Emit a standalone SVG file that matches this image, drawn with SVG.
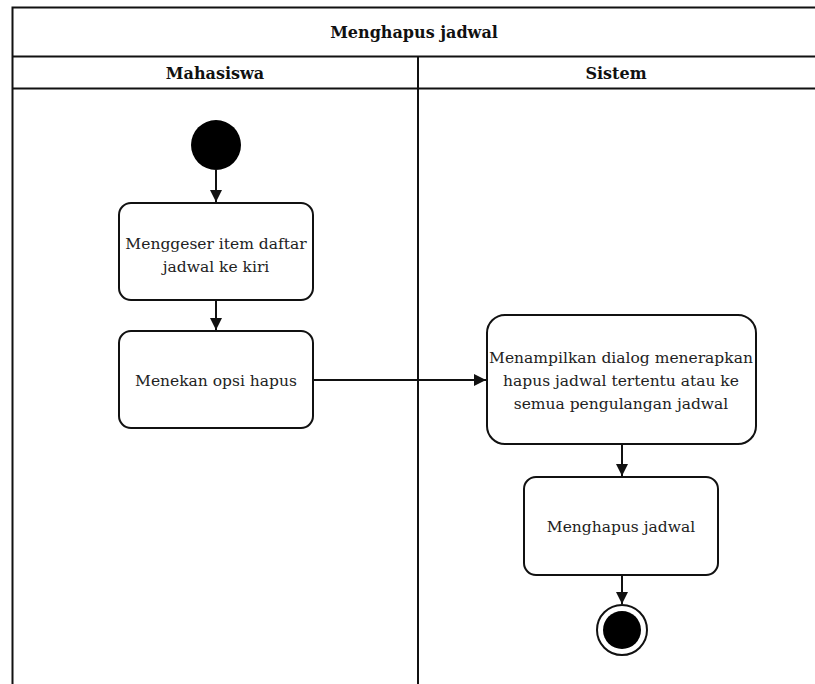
<svg xmlns="http://www.w3.org/2000/svg" width="815" height="684" viewBox="0 0 815 684">
  <style>
    .frame { fill: none; stroke: #111; stroke-width: 2; }
    .node { fill: #fff; stroke: #111; stroke-width: 2; }
    .edge { fill: none; stroke: #111; stroke-width: 2; }
    text { font-family: 'DejaVu Serif', 'Liberation Serif', serif; }
    .head { font-size: 16px; font-weight: bold; fill: #111; text-anchor: middle; }
    .label { font-size: 15.5px; fill: #222; text-anchor: middle; }
  </style>
  <defs>
    <marker id="arrow" viewBox="0 0 12 12" refX="12" refY="6" markerWidth="12" markerHeight="12" markerUnits="userSpaceOnUse" orient="auto">
      <path d="M0,0 L12,6 L0,12 Z" fill="#111"/>
    </marker>
  </defs>
  <rect width="815" height="684" fill="#fff"/>

  <!-- swimlane frame -->
  <g id="pool">
    <path class="frame" d="M12.5,685 V7.5 H816"/>
    <path class="frame" d="M12.5,56.5 H816"/>
    <path class="frame" d="M12.5,88.5 H816"/>
    <path class="frame" d="M418,56.5 V685"/>
    <text class="head" x="414" y="38">Menghapus jadwal</text>
    <text class="head" x="215" y="79">Mahasiswa</text>
    <text class="head" x="616" y="79">Sistem</text>
  </g>

  <!-- connectors -->
  <g id="connectors">
    <path class="edge" d="M216,170 V202" marker-end="url(#arrow)"/>
    <path class="edge" d="M216,300 V330" marker-end="url(#arrow)"/>
    <path class="edge" d="M313,380 H486" marker-end="url(#arrow)"/>
    <path class="edge" d="M622,444 V476" marker-end="url(#arrow)"/>
    <path class="edge" d="M622,575 V604" marker-end="url(#arrow)"/>
  </g>

  <g id="start">
    <circle cx="216" cy="145" r="25" fill="#000"/>
  </g>

  <g id="geser">
    <rect class="node" x="119" y="203" width="194" height="97" rx="12"/>
    <text class="label" x="216" y="249">Menggeser item daftar</text>
    <text class="label" x="216" y="272">jadwal ke kiri</text>
  </g>

  <g id="tekan">
    <rect class="node" x="119" y="331" width="194" height="97" rx="12"/>
    <text class="label" x="216" y="386">Menekan opsi hapus</text>
  </g>

  <g id="dialog">
    <rect class="node" x="487" y="315" width="269" height="129" rx="18"/>
    <text class="label" x="621" y="363">Menampilkan dialog menerapkan</text>
    <text class="label" x="621" y="386">hapus jadwal tertentu atau ke</text>
    <text class="label" x="621" y="409">semua pengulangan jadwal</text>
  </g>

  <g id="hapus">
    <rect class="node" x="524" y="477" width="194" height="98" rx="12"/>
    <text class="label" x="621" y="532">Menghapus jadwal</text>
  </g>

  <g id="end">
    <circle cx="622" cy="630" r="25" fill="#fff" stroke="#111" stroke-width="2"/>
    <circle cx="622" cy="630" r="19" fill="#000"/>
  </g>
</svg>
